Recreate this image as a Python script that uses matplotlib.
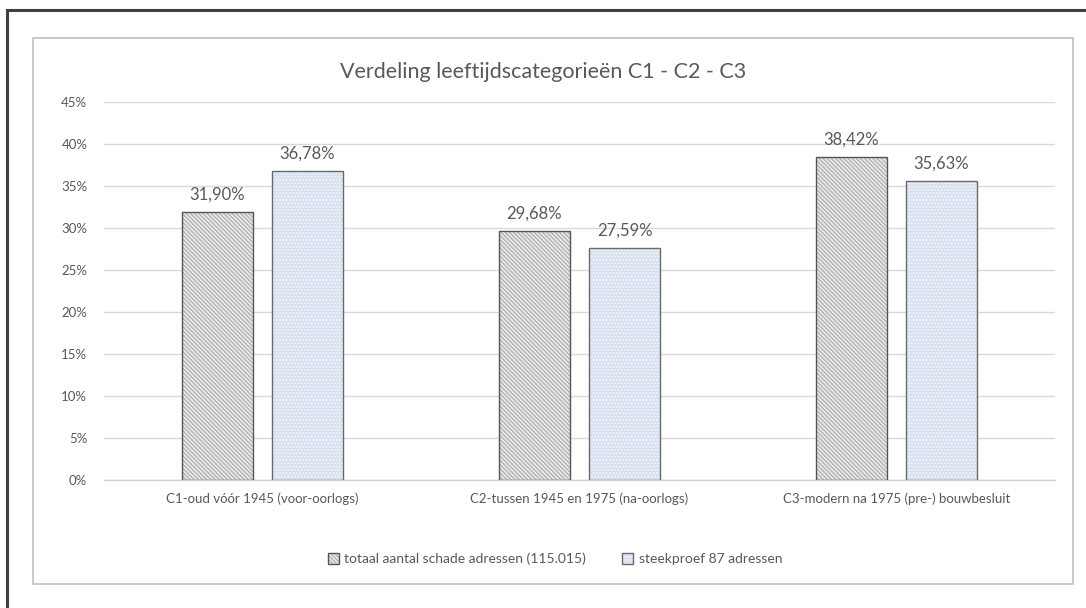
import numpy as np
import matplotlib.pyplot as plt
from matplotlib.patches import Rectangle
from matplotlib.legend_handler import HandlerTuple

categories = ['C1-oud vóór 1945 (voor-oorlogs)',
              'C2-tussen 1945 en 1975 (na-oorlogs)',
              'C3-modern na 1975 (pre-) bouwbesluit']
totaal = [31.90, 29.68, 38.42]
steekproef = [36.78, 27.59, 35.63]
series_names = ['totaal aantal schade adressen (115.015)', 'steekproef 87 adressen']
yticks = [0, 5, 10, 15, 20, 25, 30, 35, 40, 45]

TXT = '#595959'
plt.rcParams['font.family'] = ['Lato', 'DejaVu Sans']
plt.rcParams['hatch.linewidth'] = 1.1

fig = plt.figure(figsize=(10.86, 6.08), dpi=100)

# outer frame and chart area frame
fig.patches.append(Rectangle((7/1086, -0.05), 1.2, 1 - 10/608 + 0.05, transform=fig.transFigure,
                             fill=False, edgecolor='#404040', linewidth=2.2))
fig.patches.append(Rectangle((33/1086, 1 - 584/608), (1073-33)/1086, (584-38)/608,
                             transform=fig.transFigure, fill=False, edgecolor='#c0c0c0', linewidth=1.2))

ax = fig.add_axes([104/1086, 1 - 480/608, 951/1086, 378/608])

x = np.arange(len(categories))
w = 0.222
off = 0.142

# gray striped bars
b1 = ax.bar(x - off, totaal, w, color='#b3b3b3', edgecolor='#ececec', hatch='\\' * 8, linewidth=0, zorder=2)
b1o = ax.bar(x - off, totaal, w, color='none', edgecolor='#555555', linewidth=1.0, zorder=3)
# light blue dotted bars
b2 = ax.bar(x + off, steekproef, w, color='#d6dff0', edgecolor='#f4f6fb', hatch='.....', linewidth=0, zorder=2)
b2o = ax.bar(x + off, steekproef, w, color='none', edgecolor='#6a6a6a', linewidth=1.0, zorder=3)

for xi, v in zip(x - off, totaal):
    ax.text(xi, v + 1.1, f'{v:.2f}%'.replace('.', ','), ha='center', va='bottom', fontsize=12, color=TXT)
for xi, v in zip(x + off, steekproef):
    ax.text(xi, v + 1.1, f'{v:.2f}%'.replace('.', ','), ha='center', va='bottom', fontsize=12, color=TXT)

ax.set_xlim(-0.5, 2.5)
ax.set_ylim(0, 45)
ax.set_yticks(yticks)
ax.set_yticklabels([f'{t}%' for t in yticks])
ax.set_xticks(x)
ax.set_xticklabels(categories)
ax.tick_params(axis='both', length=0, labelsize=9.5, colors=TXT)
ax.tick_params(axis='y', pad=12)
ax.tick_params(axis='x', pad=9)
ax.grid(axis='y', color='#d9d9d9', linewidth=1.0, zorder=0)
for s in ['top', 'right', 'left']:
    ax.spines[s].set_visible(False)
ax.spines['bottom'].set_color('#d0d0d0')
ax.spines['bottom'].set_linewidth(1.0)

fig.text(543/1086, 1 - 72/608, 'Verdeling leeftijdscategorieën C1 - C2 - C3',
         ha='center', va='center', fontsize=15.5, color=TXT)

h1 = (b1[0], b1o[0])
h2 = (b2[0], b2o[0])
fig.legend([h1, h2], series_names, loc='center', bbox_to_anchor=(555/1086, 1 - 559/608),
           ncol=2, frameon=False, fontsize=10, labelcolor=TXT, handlelength=0.8, handleheight=0.8,
           handletextpad=0.4, columnspacing=2.6, handler_map={tuple: HandlerTuple(ndivide=1)})

fig.savefig('out.png', dpi=100)
